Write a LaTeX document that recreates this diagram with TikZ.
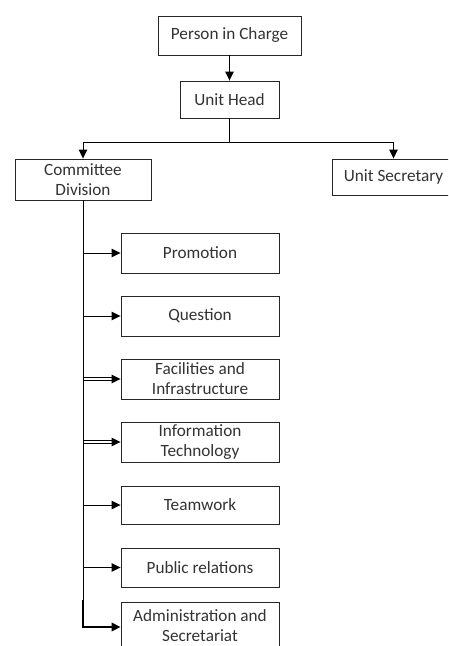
\documentclass[tikz,border=0pt]{standalone}
\usepackage{fontspec}
\setmainfont{Carlito}
\usetikzlibrary{arrows.meta}
\begin{document}
\begin{tikzpicture}[x=1pt,y=-1pt,
  box/.style={draw=black!85,line width=0.9pt,fill=white,inner sep=0pt,align=center,
    font=\fontsize{17.2pt}{20pt}\selectfont,text=black!80},
  tip/.style={-{Triangle[length=9pt,width=8.5pt]}},
  conn/.style={draw=black,line width=1pt,tip},
  thinln/.style={draw=black,line width=0.8pt},
  sub/.style={box,minimum width=158pt,minimum height=40pt}]
\useasboundingbox (0,0) rectangle (448,646);
\clip (0,0) rectangle (448,646);
\fill[white] (0,0) rectangle (448,646);
\node[box,minimum width=143pt,minimum height=39pt] (pic) at (229.5,35.5) {Person in Charge};
\node[box,minimum width=99pt,minimum height=37pt] (uh) at (229.5,99.5) {Unit Head};
\node[box,minimum width=136pt,minimum height=41pt] (cd) at (83,179.5) {Committee\\Division};
\node[box,minimum width=123pt,minimum height=36pt] (us) at (393.5,177) {Unit Secretary};
\node[sub] (prom) at (200,253) {Promotion};
\node[sub] (ques) at (200,316) {Question};
\node[sub] (fac) at (200,379) {Facilities and\\Infrastructure};
\node[sub] (it) at (200,442) {Information\\Technology};
\node[sub,minimum height=38pt] (team) at (200,505) {Teamwork};
\node[sub,minimum height=39pt] (pr) at (200,567.5) {Public relations};
\node[box,minimum width=158pt,minimum height=46pt,anchor=north] (adm) at (200,602) {Administration and\\Secretariat};
\coordinate (split) at (229.5,142);
\coordinate (trunkend) at (83,627);
\coordinate (admbend) at (83,600);
\draw[conn] (pic.south) -- (uh.north);
\draw[line width=1pt] (uh.south) -- (split);
\draw[conn] (split) -| (cd.north);
\draw[conn] (split) -| (us.north);
\draw[line width=1pt] (cd.south) -- (trunkend);
\draw[conn] (prom.west -| cd.south) -- (prom.west);
\draw[conn] (ques.west -| cd.south) -- (ques.west);
\draw[thinln] ([yshift=1.3pt]fac.west -| cd.south) -- ([yshift=1.3pt,xshift=-5pt]fac.west);
\draw[thinln] ([yshift=-1.3pt]fac.west -| cd.south) -- ([yshift=-1.3pt,xshift=-5pt]fac.west);
\draw[conn] ([xshift=-9pt]fac.west) -- (fac.west);
\draw[thinln] ([yshift=1.3pt]it.west -| cd.south) -- ([yshift=1.3pt,xshift=-5pt]it.west);
\draw[thinln] ([yshift=-1.3pt]it.west -| cd.south) -- ([yshift=-1.3pt,xshift=-5pt]it.west);
\draw[conn] ([xshift=-9pt]it.west) -- (it.west);
\draw[conn] (team.west -| cd.south) -- (team.west);
\draw[conn] (pr.west -| cd.south) -- (pr.west);
\draw[conn,line width=1.8pt] (admbend) |- (adm.west |- trunkend);
\end{tikzpicture}
\end{document}
